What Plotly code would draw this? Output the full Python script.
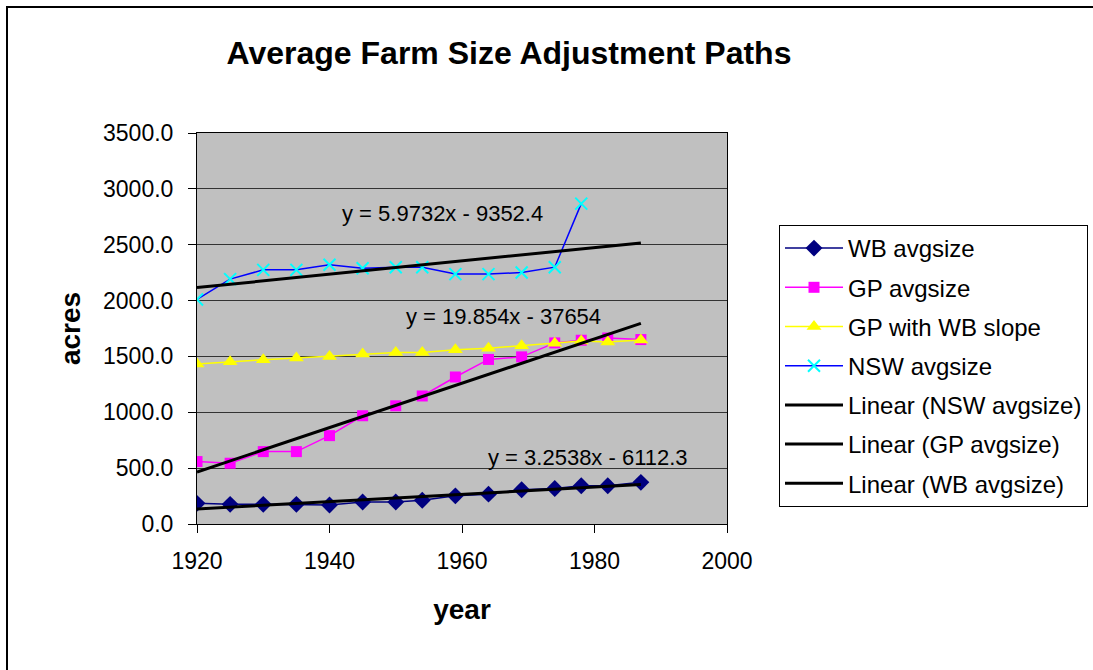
import plotly.graph_objects as go

years = [1920, 1925, 1930, 1935, 1940, 1945, 1950, 1954, 1959, 1964, 1969, 1974, 1978, 1982, 1987]
wb_avgsize = [185, 176, 176, 176, 170, 197, 197, 212, 252, 267, 306, 318, 342, 342, 373]
gp_avgsize = [559, 544, 648, 648, 791, 969, 1058, 1146, 1316, 1473, 1496, 1621, 1645, 1665, 1651]
gp_wb_slope = [1432, 1453, 1470, 1485, 1500, 1521, 1536, 1536, 1559, 1574, 1595, 1619, 1639, 1630, 1648]
nsw_years = [1920, 1925, 1930, 1935, 1940, 1945, 1950, 1954, 1959, 1964, 1969, 1974, 1978]
nsw_avgsize = [2010, 2192, 2275, 2275, 2320, 2290, 2299, 2299, 2237, 2237, 2251, 2299, 2868]

# trendline coefficients (slope, intercept) as shown on the chart
trend_nsw = (5.9732, -9352.4)
trend_gp = (19.854, -37654)
trend_wb = (3.2538, -6112.3)
trend_range = [1920, 1987]

x_ticks = [1920, 1940, 1960, 1980, 2000]
y_ticks = [0, 500, 1000, 1500, 2000, 2500, 3000, 3500]

FONT = "Liberation Sans, Arial, sans-serif"

# plot area in pixels
L, R, T, B = 197, 727, 133, 524
PW, PH = R - L, B - T

fig = go.Figure()

fig.add_trace(go.Scatter(x=years, y=wb_avgsize, name="WB avgsize", mode="lines+markers",
                         line=dict(color="#000080", width=1.5),
                         marker=dict(symbol="diamond", size=13, color="#000080"),
                         legendgroup="a"))
fig.add_trace(go.Scatter(x=years, y=gp_avgsize, name="GP avgsize", mode="lines+markers",
                         line=dict(color="#FF00FF", width=1.5),
                         marker=dict(symbol="square", size=11, color="#FF00FF"),
                         legendgroup="b"))
fig.add_trace(go.Scatter(x=years, y=gp_wb_slope, name="GP with WB slope", mode="lines+markers",
                         line=dict(color="#FFFF00", width=1.5),
                         marker=dict(symbol="triangle-up", size=13, color="#FFFF00"),
                         legendgroup="c"))
fig.add_trace(go.Scatter(x=nsw_years, y=nsw_avgsize, name="NSW avgsize", mode="lines+markers",
                         line=dict(color="#0000FF", width=1.5),
                         marker=dict(symbol="x-thin", size=12, line=dict(color="#00FFFF", width=2),
                                     color="#00FFFF"),
                         legendgroup="d"))

for (m, b), nm, g in [(trend_nsw, "Linear (NSW avgsize)", "e"),
                      (trend_gp, "Linear (GP avgsize)", "f"),
                      (trend_wb, "Linear (WB avgsize)", "g")]:
    fig.add_trace(go.Scatter(x=trend_range, y=[m * x + b for x in trend_range], name=nm,
                             mode="lines", line=dict(color="black", width=3), legendgroup=g))

annots = [
    ("y = 5.9732x - 9352.4", 1957.1, 2782),
    ("y = 19.854x - 37654", 1966.3, 1858),
    ("y = 3.2538x - 6112.3", 1979.0, 592),
]
for txt, ax_, ay_ in annots:
    fig.add_annotation(x=ax_, y=ay_, text=txt, showarrow=False,
                       font=dict(family=FONT, size=22, color="black"))

# outer chart border
fig.add_shape(type="rect", xref="paper", yref="paper",
              x0=(7 - L) / PW, x1=(1110 - L) / PW,
              y0=(B - 690) / PH, y1=(B - 7) / PH,
              line=dict(color="black", width=2), fillcolor="rgba(0,0,0,0)", layer="below")

fig.update_layout(
    width=1093, height=670,
    margin=dict(l=L, r=1093 - R, t=T, b=670 - B, autoexpand=False),
    paper_bgcolor="white", plot_bgcolor="#C0C0C0",
    font=dict(family=FONT, size=23, color="black"),
    title=dict(text="<b>Average Farm Size Adjustment Paths</b>", x=509 / 1093, xanchor="center",
               y=1 - 53 / 670, yanchor="middle", font=dict(family=FONT, size=32)),
    showlegend=True,
    legend=dict(xref="container", yref="container", x=779 / 1093, y=1 - 225 / 670,
                xanchor="left", yanchor="top",
                bordercolor="black", borderwidth=1, bgcolor="white",
                font=dict(family=FONT, size=24), tracegroupgap=5, itemwidth=58),
    xaxis=dict(range=[1920, 2000], tickvals=x_ticks, ticks="outside", ticklen=8, tickcolor="black",
               showline=True, linecolor="black", linewidth=1, mirror=True, showgrid=False,
               zeroline=False, ticklabelstandoff=8,
               title=dict(text="<b>year</b>", font=dict(size=28), standoff=26)),
    yaxis=dict(range=[0, 3500], tickvals=y_ticks, ticktext=[f"{v:.1f}" for v in y_ticks],
               ticks="outside", ticklen=8, tickcolor="black",
               showline=True, linecolor="black", linewidth=1, mirror=True,
               showgrid=True, gridcolor="#333333", gridwidth=1, zeroline=False,
               ticklabelstandoff=10,
               title=dict(text="<b>acres</b>", font=dict(size=28), standoff=14)),
)

fig.write_html("out.html", config={"displayModeBar": False},
               post_script="document.body.style.margin='0px';")
